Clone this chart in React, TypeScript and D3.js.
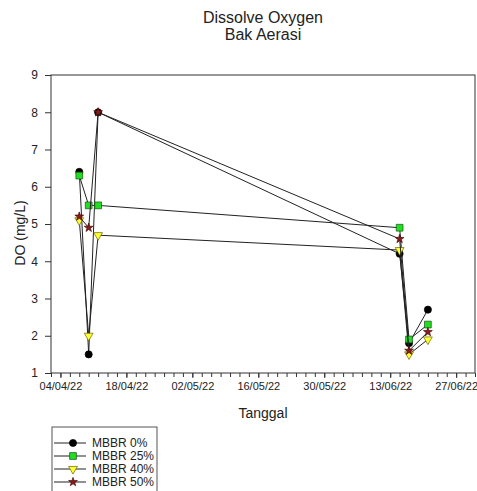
import React, { useRef, useEffect } from 'react';
import * as d3 from 'd3';

// sampling dates (dd/mm/yy)
const dates = ['08/04/22', '10/04/22', '12/04/22', '15/06/22', '17/06/22', '21/06/22'];

const mbbr0 = [6.4, 1.5, 8.0, 4.2, 1.8, 2.7];
const mbbr25 = [6.3, 5.5, 5.5, 4.9, 1.9, 2.3];
const mbbr40 = [5.1, 2.0, 4.7, 4.3, 1.5, 1.9];
const mbbr50 = [5.2, 4.9, 8.0, 4.6, 1.6, 2.1];

const seriesNames = ['MBBR 0%', 'MBBR 25%', 'MBBR 40%', 'MBBR 50%'];
const yTicks = [1, 2, 3, 4, 5, 6, 7, 8, 9];

export default function App() {
    const ref = useRef<SVGSVGElement>(null);

    useEffect(() => {
        const width = 477;
        const height = 491;
        const left = 51, right = 475, top = 75, bottom = 373;
        const font = "'Liberation Sans', Arial, sans-serif";

        const parse = d3.timeParse('%d/%m/%y');
        const fmt = d3.timeFormat('%d/%m/%y');
        const x = d3.scaleTime()
            .domain([new Date(2022, 3, 2), new Date(2022, 6, 1)])
            .range([left, right]);
        const y = d3.scaleLinear().domain([1, 9]).range([bottom, top]);

        const svg = d3.select(ref.current);
        svg.selectAll('*').remove();
        svg.attr('width', width).attr('height', height);
        svg.append('rect').attr('width', width).attr('height', height).attr('fill', 'white');

        // title
        svg.append('text').attr('x', 263).attr('y', 23).attr('text-anchor', 'middle')
            .style('font-family', font).style('font-size', '16px').attr('fill', '#222')
            .text('Dissolve Oxygen');
        svg.append('text').attr('x', 263).attr('y', 40).attr('text-anchor', 'middle')
            .style('font-family', font).style('font-size', '16px').attr('fill', '#222')
            .text('Bak Aerasi');

        // frame
        svg.append('rect')
            .attr('x', left).attr('y', top)
            .attr('width', right - left).attr('height', bottom - top)
            .attr('fill', 'none').attr('stroke', '#333').attr('stroke-width', 1);

        // x axis ticks: minor every 2 days, major every 14 days from 04/04
        const days = d3.timeDay.range(new Date(2022, 3, 2), new Date(2022, 6, 2));
        const major = days.filter((d, i) => (i - 2) % 14 === 0 && i >= 2);
        const minor = days.filter((d, i) => i % 2 === 0);
        svg.append('g').attr('transform', `translate(0, ${bottom})`)
            .call(d3.axisBottom(x).tickValues(minor).tickSize(4).tickFormat(() => ''))
            .call(g => g.select('.domain').remove())
            .selectAll('line').attr('stroke', '#333');
        svg.append('g').attr('transform', `translate(0, ${bottom})`)
            .call(d3.axisBottom(x).tickValues(major).tickSize(5).tickPadding(4).tickFormat(d => fmt(d as Date)))
            .call(g => g.select('.domain').remove())
            .call(g => g.selectAll('line').attr('stroke', '#333'))
            .selectAll('.tick text')
            .style('font-size', '11px').style('font-family', font).attr('fill', '#222');

        // y axis
        svg.append('g').attr('transform', `translate(${left}, 0)`)
            .call(d3.axisLeft(y).tickValues(yTicks).tickSize(6).tickPadding(7).tickFormat(d3.format('d')))
            .call(g => g.select('.domain').remove())
            .call(g => g.selectAll('line').attr('stroke', '#333'))
            .selectAll('.tick text')
            .style('font-size', '12px').style('font-family', font).attr('fill', '#222');

        svg.append('text').attr('x', 263).attr('y', 418).attr('text-anchor', 'middle')
            .style('font-family', font).style('font-size', '14px').attr('fill', '#222')
            .text('Tanggal');
        svg.append('text')
            .attr('transform', `translate(25, 233) rotate(-90)`)
            .attr('text-anchor', 'middle')
            .style('font-family', font).style('font-size', '14px').attr('fill', '#222')
            .text('DO (mg/L)');

        const xs = dates.map(d => parse(d) as Date);
        const allSeries = [mbbr0, mbbr25, mbbr40, mbbr50];

        const symbols = [
            { type: d3.symbolCircle, size: 40, fill: '#000000', stroke: '#000000' },
            { type: d3.symbolSquare, size: 46, fill: '#22dd22', stroke: '#115511' },
            { type: d3.symbolTriangle, size: 34, fill: '#ffff33', stroke: '#666600', rot: 180 },
            { type: d3.symbolStar, size: 24, fill: '#8b1a1a', stroke: '#4a0a0a' },
        ];

        const line = d3.line<number>()
            .x((d, i) => x(xs[i]))
            .y(d => y(d));

        allSeries.forEach((vals, si) => {
            const s = symbols[si];
            svg.append('path').datum(vals).attr('d', line)
                .attr('fill', 'none').attr('stroke', '#222').attr('stroke-width', 1);
            svg.selectAll(`path.sym-${si}`)
                .data(vals)
                .enter()
                .append('path')
                .attr('class', `sym-${si}`)
                .attr('d', d3.symbol().type(s.type).size(s.size))
                .attr('transform', (d, i) => `translate(${x(xs[i])}, ${y(d)}) rotate(${s.rot || 0})`)
                .attr('fill', s.fill).attr('stroke', s.stroke).attr('stroke-width', 0.7);
        });

        // legend (box runs past the bottom edge as in the original)
        const lg = svg.append('g');
        lg.append('rect').attr('x', 52).attr('y', 427).attr('width', 105).attr('height', 80)
            .attr('fill', 'white').attr('stroke', '#555').attr('stroke-width', 1);
        seriesNames.forEach((name, i) => {
            const s = symbols[i];
            const ry = 443 + i * 13;
            lg.append('line').attr('x1', 54).attr('x2', 86).attr('y1', ry).attr('y2', ry)
                .attr('stroke', '#222').attr('stroke-width', 1);
            lg.append('path')
                .attr('d', d3.symbol().type(s.type).size(s.size)())
                .attr('transform', `translate(73, ${ry}) rotate(${s.rot || 0})`)
                .attr('fill', s.fill).attr('stroke', s.stroke).attr('stroke-width', 0.7);
            lg.append('text').attr('x', 92).attr('y', ry + 4)
                .style('font-family', font).style('font-size', '12px').attr('fill', '#222')
                .text(name);
        });
    }, []);

    return (
        <div>
            <svg ref={ref} style={{ position: 'absolute', left: 0, top: 0 }}></svg>
        </div>
    );
}
